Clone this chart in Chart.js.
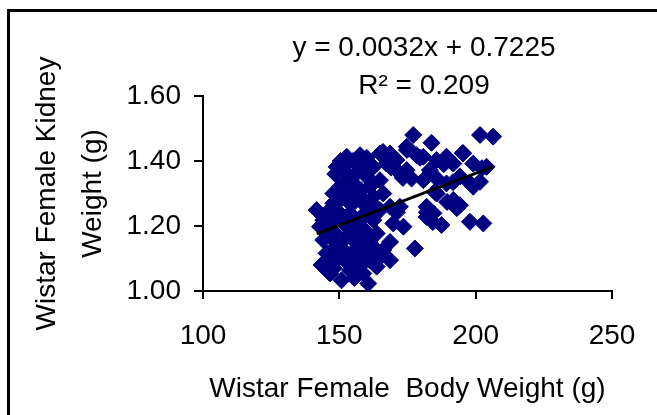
<!DOCTYPE html>
<html>
<head>
<meta charset="utf-8">
<script src="https://cdn.jsdelivr.net/npm/chart.js@4/dist/chart.umd.min.js"></script>
<style>
  html, body { margin: 0; padding: 0; background: #fff; overflow: hidden; }
  #frame { position: absolute; left: 7px; top: 9px; width: 700px; height: 500px; border: 3px solid #000; }
  #wrap { position: absolute; left: 0; top: 0; width: 657px; height: 415px; }
</style>
</head>
<body>
<div id="frame"></div>
<div id="wrap"><canvas id="myChart" width="657" height="415"></canvas></div>
<script>

// body weight (g) and kidney weight (g), one entry per rat
var bodyWeight = [
  177.1, 183.8, 201.6, 206.4, 178.3, 174.7, 152.7, 157.6, 164.9, 168.6,
  149.0, 189.3, 195.4, 191.8, 199.1, 201.6, 199.1, 183.2, 180.8, 185.7,
  191.8, 194.2, 182.0, 184.5, 187.5, 197.9, 202.8, 177.7, 173.5, 169.8,
  172.2, 168.6, 171.0, 174.7, 176.5, 162.5, 160.0, 164.9, 155.1, 150.2,
  147.8, 152.7, 157.6, 162.5, 166.1, 141.7, 145.3, 144.1, 149.0, 153.9,
  158.8, 162.5, 146.6, 144.1, 149.0, 153.9, 156.4, 160.0, 162.5, 145.3,
  150.2, 156.4, 161.2, 166.1, 168.6, 146.6, 150.8, 160.6, 153.9, 158.8,
  163.7, 142.9, 151.5, 156.4, 152.7, 157.6, 167.3, 171.0, 180.8, 185.7,
  204.0, 164.9, 156.4, 161.2, 152.7, 147.8, 185.7, 189.3, 194.2, 182.0,
  150.2, 160.0, 151.5, 158.8, 163.7, 152.7, 148.5, 150.5, 155.0, 160.0,
  155.0, 158.0, 159.5, 163.0, 154.0, 150.0, 147.0, 155.0, 159.0, 161.0,
  158.0, 152.0, 148.0, 147.0, 152.5, 155.0, 158.0, 163.0, 148.0, 143.5,
  155.5, 148.0, 166.0, 174.8, 179.6, 173.3, 169.0, 171.1, 168.6, 164.5,
  189.5, 195.3, 188.3, 202.3, 191.7, 197.9, 185.0, 189.5, 193.1, 182.1,
  184.3
];
var kidneyWeight = [
  1.480, 1.456, 1.480, 1.475, 1.418, 1.444, 1.413, 1.418, 1.423, 1.423,
  1.382, 1.413, 1.423, 1.392, 1.392, 1.336, 1.321, 1.372, 1.341, 1.346,
  1.280, 1.264, 1.259, 1.239, 1.203, 1.213, 1.208, 1.131, 1.198, 1.208,
  1.259, 1.259, 1.372, 1.372, 1.346, 1.382, 1.352, 1.341, 1.352, 1.321,
  1.300, 1.280, 1.290, 1.290, 1.300, 1.249, 1.239, 1.218, 1.249, 1.239,
  1.228, 1.218, 1.177, 1.157, 1.146, 1.177, 1.146, 1.167, 1.136, 1.116,
  1.105, 1.095, 1.095, 1.126, 1.095, 1.054, 1.033, 1.023, 1.064, 1.054,
  1.075, 1.198, 1.208, 1.208, 1.393, 1.382, 1.392, 1.403, 1.413, 1.403,
  1.382, 1.249, 1.321, 1.321, 1.341, 1.270, 1.300, 1.331, 1.352, 1.228,
  1.280, 1.259, 1.126, 1.116, 1.177, 1.362, 1.360, 1.400, 1.400, 1.410,
  1.270, 1.310, 1.240, 1.260, 1.300, 1.230, 1.210, 1.190, 1.190, 1.150,
  1.170, 1.160, 1.180, 1.090, 1.090, 1.120, 1.080, 1.110, 1.130, 1.080,
  1.040, 1.070, 1.428, 1.434, 1.410, 1.348, 1.380, 1.242, 1.151, 1.100,
  1.410, 1.425, 1.390, 1.378, 1.335, 1.332, 1.305, 1.274, 1.255, 1.242,
  1.212
];

var xTicks = [100, 150, 200, 250];
var yTicks = [1.00, 1.20, 1.40, 1.60];

// linear trendline
var slope = 0.0032;
var intercept = 0.7225;
var rSquared = 0.209;

var FONT = "'Liberation Sans', Arial, sans-serif";

function points(){
  var pts = [];
  for (var i = 0; i < bodyWeight.length; i++) {
    pts.push({x: bodyWeight[i], y: kidneyWeight[i]});
  }
  return pts;
}

function trendPoints(){
  var lo = Math.min.apply(null, bodyWeight);
  var hi = Math.max.apply(null, bodyWeight);
  return [{x: lo, y: slope * lo + intercept}, {x: hi, y: slope * hi + intercept}];
}

// equation label above the plot
var equationLabel = {
  id: 'equationLabel',
  afterDraw: function(chart){
    var ctx = chart.ctx;
    ctx.save();
    ctx.fillStyle = '#000';
    ctx.font = '28px ' + FONT;
    ctx.textAlign = 'center';
    ctx.textBaseline = 'alphabetic';
    ctx.fillText('y = ' + slope + 'x + ' + intercept, 424, 56);
    ctx.fillText('R\u00b2 = ' + rSquared, 424, 94);
    ctx.restore();
  }
};

var ctx = document.getElementById('myChart').getContext('2d');

var chart = new Chart(ctx, {
  type: 'scatter',
  data: {
    datasets: [{
      type: 'line',
      label: 'Trend',
      data: trendPoints(),
      borderColor: '#000',
      borderWidth: 3,
      pointRadius: 0,
      fill: false,
      order: 0
    }, {
      label: 'Kidney',
      data: points(),
      backgroundColor: '#000080',
      borderColor: '#000080',
      borderWidth: 1,
      pointStyle: 'rectRot',
      pointRadius: 8.5,
      order: 1
    }]
  },
  options: {
    responsive: false,
    animation: false,
    layout: {padding: {left: 0, right: 45, top: 96, bottom: 0}},
    plugins: {
      legend: {display: false},
      tooltip: {enabled: false}
    },
    scales: {
      x: {
        type: 'linear',
        min: 100, max: 250,
        afterBuildTicks: function(scale){ scale.ticks = xTicks.map(function(v){ return {value: v}; }); },
        afterFit: function(scale){ scale.height = 124; },
        grid: {drawOnChartArea: false, drawTicks: true, tickLength: 8, color: '#000', lineWidth: 2},
        border: {display: true, color: '#000', width: 2},
        ticks: {color: '#000', padding: 20, font: {family: FONT, size: 28}, maxRotation: 0},
        title: {
          display: true,
          text: 'Wistar Female  Body Weight (g)',
          color: '#000',
          font: {family: FONT, size: 28},
          padding: {top: 0, bottom: 9}
        }
      },
      y: {
        type: 'linear',
        min: 1.0, max: 1.6,
        afterBuildTicks: function(scale){ scale.ticks = yTicks.map(function(v){ return {value: v}; }); },
        afterFit: function(scale){ scale.width = 203; },
        grid: {drawOnChartArea: false, drawTicks: true, tickLength: 9, color: '#000', lineWidth: 2},
        border: {display: true, color: '#000', width: 2},
        ticks: {
          color: '#000', padding: 13, font: {family: FONT, size: 28},
          callback: function(v){ return Number(v).toFixed(2); }
        },
        title: {
          display: true,
          text: ['Wistar Female Kidney', 'Weight (g)'],
          color: '#000',
          font: {family: FONT, size: 28, lineHeight: 1.64},
          padding: {top: 24, bottom: 0}
        }
      }
    }
  },
  plugins: [equationLabel]
});

</script>
</body>
</html>
